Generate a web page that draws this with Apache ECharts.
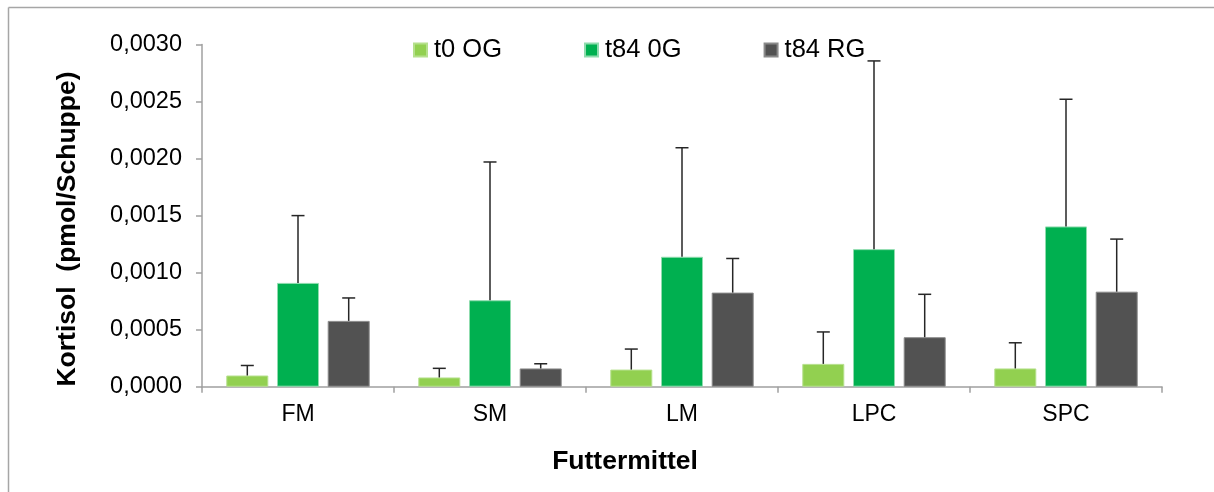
<!DOCTYPE html>
<html>
<head>
<meta charset="utf-8">
<script src="https://cdn.jsdelivr.net/npm/echarts@6/dist/echarts.min.js"></script>
<style>
html,body{margin:0;padding:0;background:#fff;}
#chart{width:1214px;height:492px;}
</style>
</head>
<body>
<div id="chart"></div>
<script>
// ---- data ----
const categories = ['FM', 'SM', 'LM', 'LPC', 'SPC'];
const seriesNames = ['t0 OG', 't84 0G', 't84 RG'];
const t0OG_mean  = [0.000098, 0.000081, 0.000150, 0.000200, 0.000160];
const t0OG_sd    = [0.000088, 0.000080, 0.000180, 0.000280, 0.000225];
const t84OG_mean = [0.000910, 0.000758, 0.001139, 0.001206, 0.001405];
const t84OG_sd   = [0.000590, 0.001212, 0.000956, 0.001650, 0.001115];
const t84RG_mean = [0.000577, 0.000160, 0.000825, 0.000434, 0.000833];
const t84RG_sd   = [0.000201, 0.000041, 0.000299, 0.000376, 0.000461];
const yTicks = { min: 0, max: 0.0030, interval: 0.0005 };
const xTitle = 'Futtermittel';
const yTitle = 'Kortisol  (pmol/Schuppe)';

// ---- styles ----
const FONT = "'Liberation Sans', Arial, sans-serif";
const colors = ['#92D050', '#00B050', '#525252'];
const borders = ['#b5e08c', '#8fdcae', '#8a8a8a'];
const BAR_W = 42;
const GAP_PX = 8.7;
const AXIS_COLOR = '#a0a0a0';

const means = [t0OG_mean, t84OG_mean, t84RG_mean];
const sds = [t0OG_sd, t84OG_sd, t84RG_sd];

const chart = echarts.init(document.getElementById('chart'), null, {renderer: 'canvas'});

const barSeries = seriesNames.map((name, i) => ({
  name: name,
  type: 'bar',
  data: means[i],
  barWidth: BAR_W,
  barGap: (GAP_PX / BAR_W * 100) + '%',
  itemStyle: { color: colors[i], borderColor: borders[i], borderWidth: 1 },
  emphasis: { disabled: true },
  z: 2
}));

const errSeries = seriesNames.map((name, i) => ({
  type: 'custom',
  name: name + ' err',
  data: means[i].map((m, k) => [k, m, m + sds[i][k]]),
  encode: { x: 0, y: [1, 2] },
  renderItem: function (params, api) {
    const k = api.value(0);
    const off = (i - 1) * (BAR_W + GAP_PX);
    const p0 = api.coord([k, api.value(1)]);
    const p1 = api.coord([k, api.value(2)]);
    const x = p0[0] + off;
    const cap = 6.5;
    return {
      type: 'group',
      children: [
        { type: 'line', shape: { x1: x, y1: p0[1], x2: x, y2: p1[1] }, style: { stroke: '#262626', lineWidth: 1.5 } },
        { type: 'line', shape: { x1: x - cap, y1: p1[1], x2: x + cap, y2: p1[1] }, style: { stroke: '#262626', lineWidth: 1.5 } }
      ]
    };
  },
  silent: true,
  z: 3
}));

const option = {
  animation: false,
  backgroundColor: '#fff',
  grid: { left: 202, right: 52, top: 44.5, bottom: 105.3, containLabel: false },
  legend: {
    data: seriesNames,
    left: 408,
    top: 32,
    itemWidth: 13,
    itemHeight: 13,
    itemGap: 82,
    icon: 'rect',
    textStyle: { fontFamily: FONT, fontSize: 25.5, color: '#000', padding: [0, 0, 0, 2] },
    selectedMode: false
  },
  xAxis: {
    type: 'category',
    data: categories,
    axisLine: { lineStyle: { color: AXIS_COLOR, width: 1.5 } },
    axisTick: { show: true, length: 6, lineStyle: { color: AXIS_COLOR, width: 1.5 } },
    axisLabel: { fontFamily: FONT, fontSize: 23, color: '#000', margin: 16 },
    splitLine: { show: false }
  },
  yAxis: {
    type: 'value',
    min: yTicks.min,
    max: yTicks.max,
    interval: yTicks.interval,
    axisLine: { show: true, lineStyle: { color: AXIS_COLOR, width: 1.5 } },
    axisTick: { show: true, length: 6, lineStyle: { color: AXIS_COLOR, width: 1.5 } },
    axisLabel: {
      fontFamily: FONT, fontSize: 23.5, color: '#000', margin: 20,
      formatter: v => v.toFixed(4).replace('.', ',')
    },
    splitLine: { show: false }
  },
  graphic: [
    { type: 'line', silent: true, z: -1,
      shape: { x1: 8.5, y1: 7.5, x2: 1214, y2: 7.5 },
      style: { stroke: '#a6a6a6', lineWidth: 1.5 } },
    { type: 'line', silent: true, z: -1,
      shape: { x1: 8.5, y1: 7.5, x2: 8.5, y2: 492 },
      style: { stroke: '#a6a6a6', lineWidth: 1.5 } },
    { type: 'text', silent: true,
      x: 625, y: 462,
      style: { text: xTitle, fontFamily: FONT, fontWeight: 'bold', fontSize: 26.5, fill: '#000',
               textAlign: 'center', textVerticalAlign: 'middle' } },
    { type: 'text', silent: true,
      x: 68, y: 229, rotation: Math.PI / 2,
      style: { text: yTitle, fontFamily: FONT, fontWeight: 'bold', fontSize: 26.5, fill: '#000',
               textAlign: 'center', textVerticalAlign: 'middle' } }
  ],
  series: barSeries.concat(errSeries)
};
chart.setOption(option);
</script>
</body>
</html>
